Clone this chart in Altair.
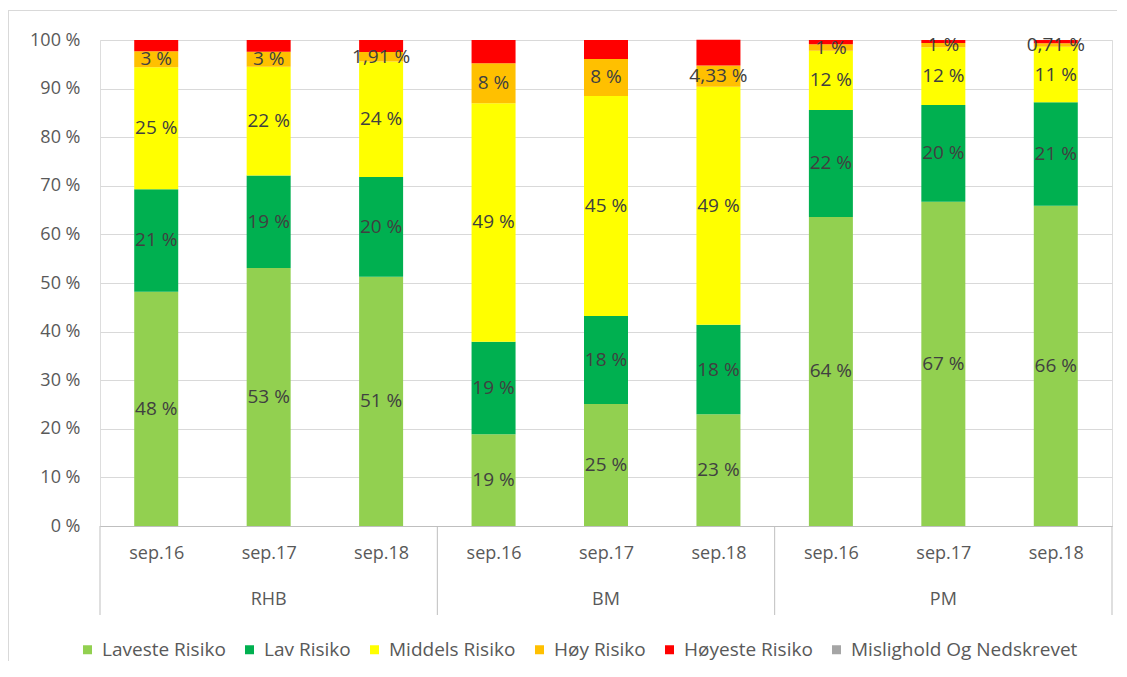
import altair as alt
import pandas as pd

groups = ["RHB", "BM", "PM"]
periods = ["sep.16", "sep.17", "sep.18"]
categories = ["Laveste Risiko", "Lav Risiko", "Middels Risiko", "Høy Risiko",
              "Høyeste Risiko", "Mislighold Og Nedskrevet"]
colors = ["#92D050", "#00B050", "#FFFF00", "#FFC000", "#FF0000", "#A5A5A5"]

# values per bar (RHB sep.16..18, BM sep.16..18, PM sep.16..18), in %
laveste = [48.2, 53.1, 51.3, 18.9, 25.1, 23.0, 63.6, 66.7, 65.9]
lav = [21.1, 19.0, 20.5, 19.0, 18.1, 18.4, 22.0, 19.9, 21.3]
middels = [25.1, 22.4, 23.8, 49.1, 45.3, 49.0, 12.2, 11.9, 11.4]
hoy = [3.3, 3.1, 1.91, 8.2, 7.6, 4.33, 1.3, 0.9, 0.71]
hoyeste = [2.3, 2.4, 2.5, 4.8, 3.9, 5.3, 0.9, 0.6, 0.7]
mislighold = [0, 0, 0, 0, 0, 0, 0, 0, 0]

laveste_lbl = ["48 %", "53 %", "51 %", "19 %", "25 %", "23 %", "64 %", "67 %", "66 %"]
lav_lbl = ["21 %", "19 %", "20 %", "19 %", "18 %", "18 %", "22 %", "20 %", "21 %"]
middels_lbl = ["25 %", "22 %", "24 %", "49 %", "45 %", "49 %", "12 %", "12 %", "11 %"]
hoy_lbl = ["3 %", "3 %", "1,91 %", "8 %", "8 %", "4,33 %", "1 %", "1 %", "0,71 %"]
hoyeste_lbl = [""] * 9
mislighold_lbl = [""] * 9

y_ticks = [0, 10, 20, 30, 40, 50, 60, 70, 80, 90, 100]

series = [laveste, lav, middels, hoy, hoyeste, mislighold]
labels = [laveste_lbl, lav_lbl, middels_lbl, hoy_lbl, hoyeste_lbl, mislighold_lbl]

rows = []
for gi, g in enumerate(groups):
    for pi, p in enumerate(periods):
        idx = gi * len(periods) + pi
        for ci, cat in enumerate(categories):
            rows.append(dict(idx=idx, group=g, period=p, cat=cat, ord=ci,
                             value=series[ci][idx], label=labels[ci][idx]))
df = pd.DataFrame(rows)

n = len(groups) * len(periods)
sep_df = pd.DataFrame({"xb": [gi * len(periods) - 0.5 for gi in range(len(groups) + 1)]})
grp_df = pd.DataFrame({"gx": [gi * len(periods) + (len(periods) - 1) / 2 for gi in range(len(groups))],
                       "group": groups})

W, H = 1012, 486
PAD_L, PAD_T, PAD_R, PAD_B = 92, 32, 5, 135
FONT = "Open Sans"
GREY = "#595959"

xscale = alt.Scale(domain=[-0.5, n - 0.5], nice=False, zero=False, padding=0)
yscale = alt.Scale(domain=[0, 100], nice=False)

periods_js = "[" + ",".join("'" + p + "'" for p in periods) + "]"

base = alt.Chart(df).transform_stack(
    stack="value", groupby=["idx"],
    sort=[alt.SortField(field="ord", order="ascending")],
    as_=["y0", "y1"]
).transform_calculate(mid="(datum.y0 + datum.y1) / 2")

bars = base.mark_bar(size=44).encode(
    x=alt.X("idx:Q", scale=xscale, title=None,
            axis=alt.Axis(values=list(range(n)),
                          labelExpr=periods_js + "[datum.value % " + str(len(periods)) + "]",
                          grid=False, ticks=False, tickSize=0, domainColor="#BFBFBF",
                          labelPadding=27, labelBaseline="middle", labelFontSize=18,
                          labelColor=GREY, labelFont=FONT)),
    y=alt.Y("y0:Q", scale=yscale, title=None,
            axis=alt.Axis(values=y_ticks, labelExpr="datum.value + ' %'",
                          domain=False, ticks=False, gridColor="#D9D9D9",
                          labelPadding=20, labelFontSize=18, labelColor=GREY,
                          labelFont=FONT)),
    y2="y1:Q",
    color=alt.Color("cat:N", scale=alt.Scale(domain=categories, range=colors),
                    legend=alt.Legend(orient="none", legendX=-22, legendY=600,
                                      direction="horizontal", title=None,
                                      symbolType="square", symbolSize=81,
                                      symbolStrokeWidth=0, labelLimit=0,
                                      labelFontSize=19, labelColor=GREY,
                                      labelFont=FONT, columnPadding=14,
                                      labelOffset=5, columns=6)),
    order=alt.Order("ord:Q"),
)

texts = base.transform_filter("datum.label != ''").mark_text(
    fontSize=19, color="#404040", font=FONT, baseline="middle"
).encode(
    x=alt.X("idx:Q", title=None),
    y=alt.Y("mid:Q", title=None),
    text="label:N",
)

seps = alt.Chart(sep_df).mark_rule(color="#BFBFBF", strokeWidth=1).encode(
    x=alt.X("xb:Q", title=None),
    y=alt.value(H),
    y2=alt.value(H + 89),
)

grp_text = alt.Chart(grp_df).mark_text(
    fontSize=18, color=GREY, font=FONT, baseline="middle"
).encode(
    x=alt.X("gx:Q", title=None),
    y=alt.value(H + 74),
    text="group:N",
)

# light chart-area frame (left and top edges), as in the original
frame_left = alt.Chart(pd.DataFrame({"k": [0]})).mark_rule(color="#D9D9D9").encode(
    x=alt.value(-PAD_L + 0.5), y=alt.value(-PAD_T + 2), y2=alt.value(H + PAD_B)
)
frame_top = alt.Chart(pd.DataFrame({"k": [0]})).mark_rule(color="#D9D9D9").encode(
    x=alt.value(-PAD_L), x2=alt.value(W + PAD_R), y=alt.value(-PAD_T + 2.5)
)

chart = alt.layer(bars, texts, seps, grp_text, frame_left, frame_top).properties(
    width=W, height=H,
    autosize=alt.AutoSizeParams(type="none"),
    padding={"left": PAD_L, "top": PAD_T, "right": PAD_R, "bottom": PAD_B},
).configure_view(stroke=None).configure(font=FONT)

chart.save("out.html", embed_options={"renderer": "svg", "actions": False})
